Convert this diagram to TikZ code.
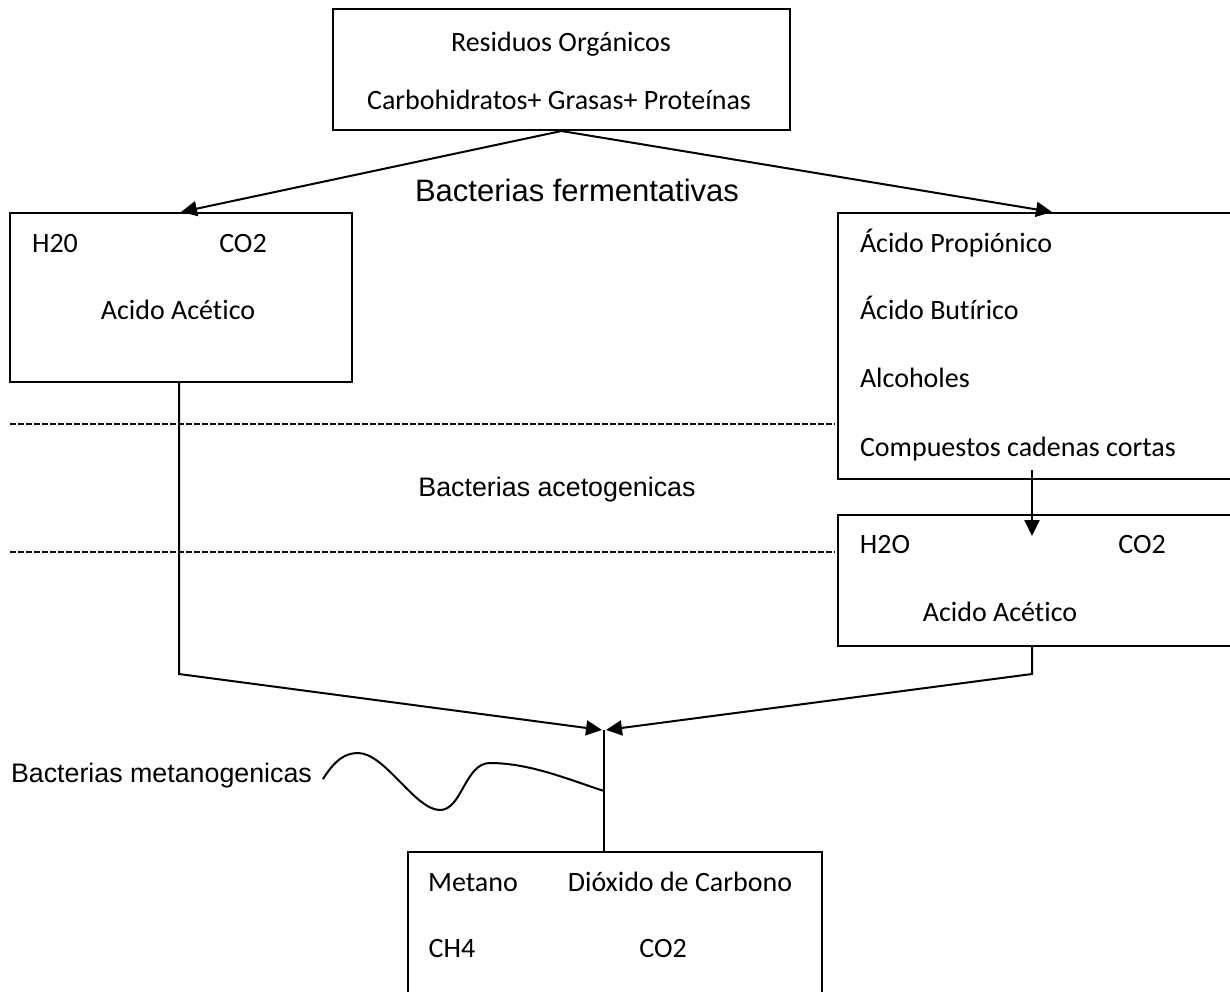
\documentclass[tikz,border=0pt]{standalone}
\usepackage{fontspec}
\setmainfont{Carlito}[Ligatures=NoCommon]
\newfontfamily\arialfont{Liberation Sans}
\usetikzlibrary{arrows.meta}

\begin{document}
\begin{tikzpicture}[x=0.5pt,y=-0.5pt,line width=1pt,
    >={Triangle[length=8pt,width=7.5pt]},
    box/.style={draw,inner sep=0pt},
    txt/.style={inner sep=0pt,anchor=base,font=\fontsize{14pt}{17pt}\selectfont},
    bact/.style={inner sep=0pt,anchor=base,font=\arialfont\fontsize{13.4pt}{16pt}\selectfont},
    sep/.style={dash pattern=on 3pt off 1pt}]
  \useasboundingbox (0,0) rectangle (1230,991);
  % boxes
  \node[box,minimum width=228.5pt,minimum height=60.5pt] (res) at (561.5,69.5) {};
  \node[box,minimum width=171pt,minimum height=84.5pt] (acL) at (181,297.5) {};
  \node[box,minimum width=214pt,minimum height=133pt] (prod) at (1052,346) {};
  \node[box,minimum width=214pt,minimum height=65.5pt] (acR) at (1052,580.5) {};
  \node[box,minimum width=207pt,minimum height=79pt] (gas) at (615,931) {};
  % texts
  \node[txt] (res1) at (561,51) {Residuos Orgánicos};
  \node[txt] (res2) at (559,109) {Carbohidratos+ Grasas+ Proteínas};
  \node[txt] (h2oL) at (55,252) {H20};
  \node[txt] (co2L) at (243,252) {CO2};
  \node[txt] (aceL) at (178,319) {Acido Acético};
  \node[txt,anchor=base west] (prop) at (859,252) {Ácido Propiónico};
  \node[txt,anchor=base west] (but) at (859,319) {Ácido Butírico};
  \node[txt,anchor=base west] (alc) at (859,387) {Alcoholes};
  \node[txt,anchor=base west] (comp) at (859,456) {Compuestos cadenas cortas};
  \node[txt] (h2oR) at (885,553) {H2O};
  \node[txt] (co2R) at (1142,553) {CO2};
  \node[txt] (aceR) at (1000,621) {Acido Acético};
  \node[txt] (met) at (473,891) {Metano};
  \node[txt] (diox) at (680,891) {Dióxido de Carbono};
  \node[txt] (ch4) at (452,957) {CH4};
  \node[txt] (co2B) at (663,957) {CO2};
  % bacteria
  \node[bact,font=\arialfont\fontsize{15.5pt}{18pt}\selectfont] (ferm) at (577,201) {Bacterias fermentativas};
  \node[bact] (acet) at (557,496) {Bacterias acetogenicas};
  \node[bact,anchor=base west] (metlbl) at (10,782) {Bacterias metanogenicas};
  % points
  \coordinate (d1a) at (10,424);
  \coordinate (d1b) at (835,424);
  \coordinate (d2a) at (10,552);
  \coordinate (d2b) at (835,552);
  \coordinate (pa) at (1032,470);
  \coordinate (pb) at (1032,536);
  \coordinate (kL) at (179,674);
  \coordinate (kR) at (1032,674);
  \coordinate (meet) at (604,730);
  \coordinate (wv) at (604,791);
  % lines
  \draw[->] (res.south) -- (acL.north);
  \draw[->] (res.south) -- (prod.north);
  \draw[sep] (d1a) -- (d1b);
  \draw[sep] (d2a) -- (d2b);
  \draw[->] (pa) -- (pb);
  \draw[->] (kL |- acL.south) -- (kL) -- ([xshift=-1pt]meet);
  \draw[->] ([xshift=-10pt]acR.south) -- (kR) -- ([xshift=1pt]meet);
  \draw (meet) -- (meet |- gas.north);
  \draw ([xshift=5pt,yshift=-2pt]metlbl.east) .. controls (335,760) and (345,753) .. (358,753)
    .. controls (385,753) and (415,810) .. (440,810)
    .. controls (462,810) and (465,763) .. (490,763)
    .. controls (530,763) and (570,780) .. (wv);
\end{tikzpicture}
\end{document}
